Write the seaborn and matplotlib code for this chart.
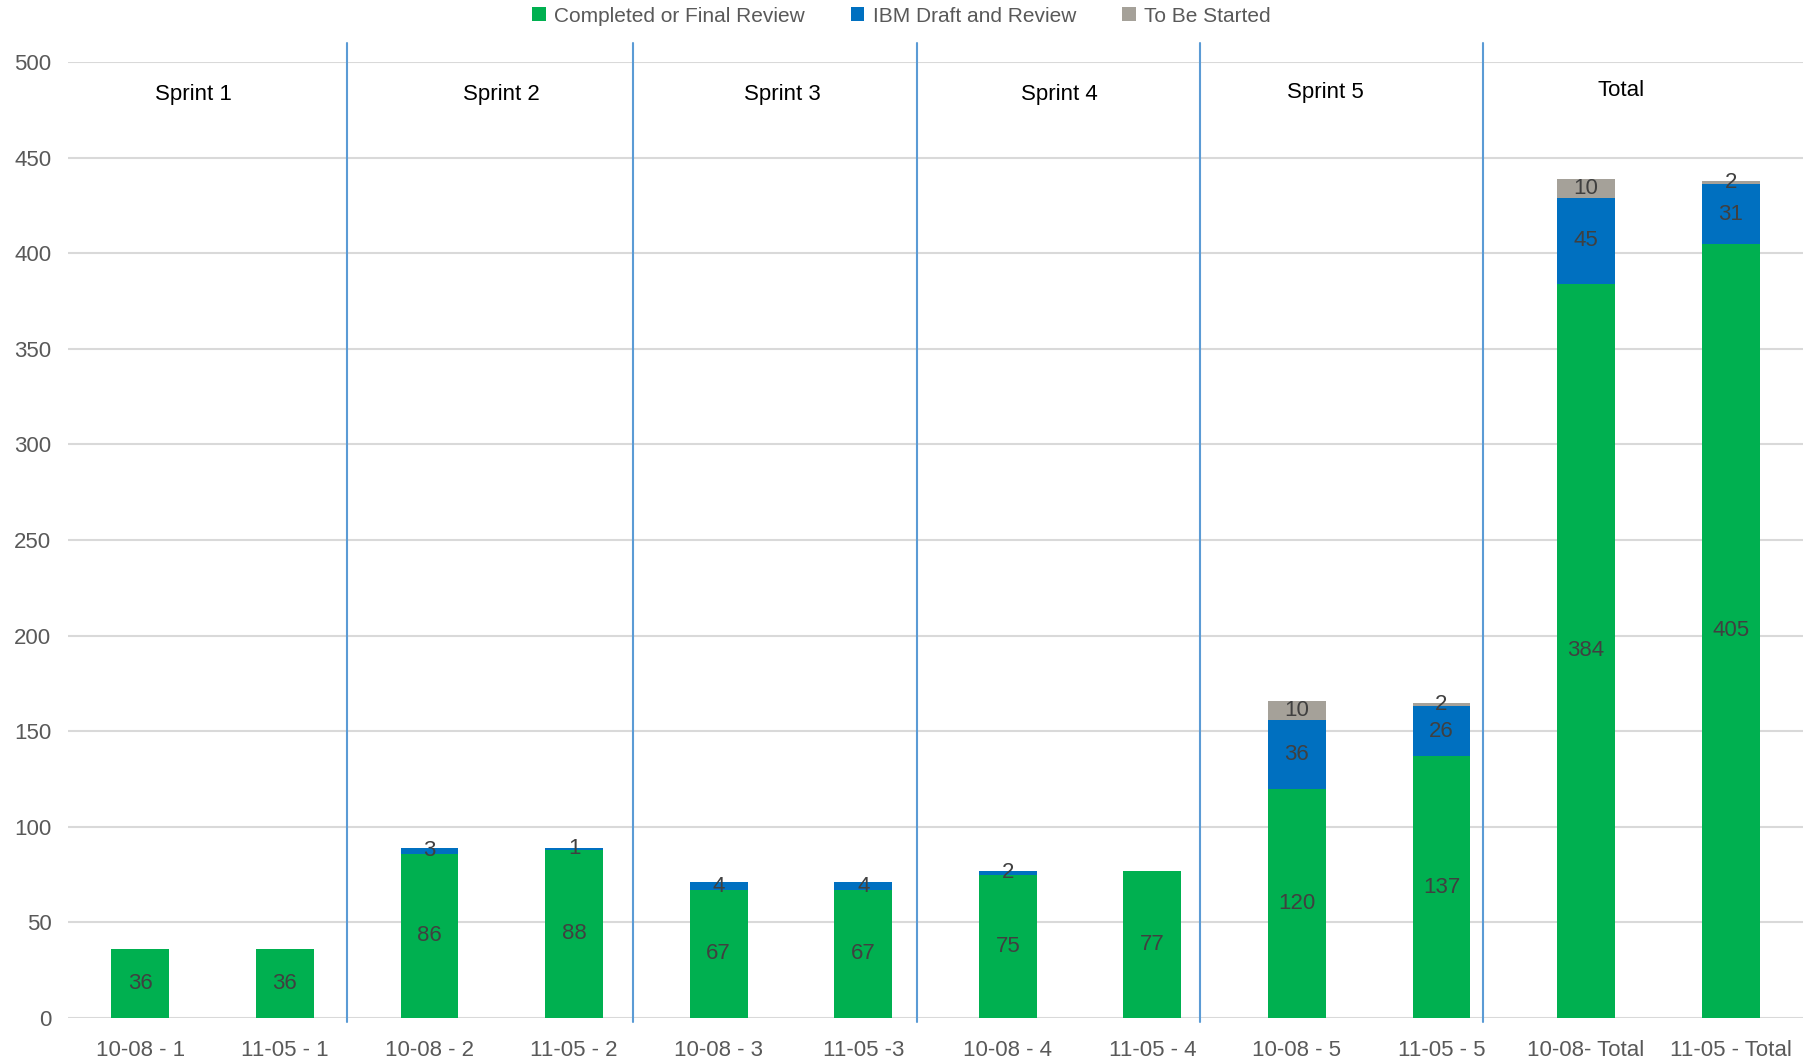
import numpy as np
import pandas as pd
import matplotlib
matplotlib.use("Agg")
import matplotlib.pyplot as plt
import seaborn as sns
from matplotlib.patches import Patch

categories = ["10-08 - 1", "11-05 - 1", "10-08 - 2", "11-05 - 2", "10-08 - 3", "11-05 -3",
              "10-08 - 4", "11-05 - 4", "10-08 - 5", "11-05 - 5", "10-08- Total", "11-05 - Total"]
completed = [36, 36, 86, 88, 67, 67, 75, 77, 120, 137, 384, 405]
ibm_draft = [0, 0, 3, 1, 4, 4, 2, 0, 36, 26, 45, 31]
to_be_started = [0, 0, 0, 0, 0, 0, 0, 0, 10, 2, 10, 2]
series_names = ["Completed or Final Review", "IBM Draft and Review", "To Be Started"]
sprint_labels = ["Sprint 1", "Sprint 2", "Sprint 3", "Sprint 4", "Sprint 5", "Total"]

colors = ["#00B050", "#0070C0", "#A5A199"]

sns.set_theme(style="white")
plt.rcParams["font.family"] = ["Liberation Sans", "DejaVu Sans"]

c = np.array(completed)
b = np.array(ibm_draft)
g = np.array(to_be_started)
df = pd.DataFrame({"cat": categories, "green": c, "blue": c + b, "gray": c + b + g})

fig = plt.figure(figsize=(18.03, 10.61), dpi=100)
ax = fig.add_axes([68 / 1803, 1 - 1018 / 1061, 1 - 68 / 1803, (1018 - 62) / 1061])

for col, colr in zip(["gray", "blue", "green"], colors[::-1]):
    sns.barplot(data=df, x="cat", y=col, order=categories, color=colr, width=0.4,
                saturation=1, ax=ax, zorder=3, linewidth=0, edgecolor="none")

ax.set_ylim(0, 500)
ax.set_xlim(-0.5, len(categories) - 0.5)
ax.set_yticks(np.arange(0, 501, 50))
ax.yaxis.grid(True, color="#D9D9D9", linewidth=1.5, zorder=0)
ax.set_axisbelow(True)
for s in ax.spines.values():
    s.set_visible(False)
ax.axhline(0, color="#D9D9D9", linewidth=2, zorder=1)
ax.set_xlabel("")
ax.set_ylabel("")
ax.tick_params(axis="both", length=0, labelsize=16, colors="#595959")
ax.tick_params(axis="x", pad=16)
ax.tick_params(axis="y", pad=12)

# segment labels
for i in range(len(categories)):
    segs = [(0, c[i]), (c[i], b[i]), (c[i] + b[i], g[i])]
    for base, val in segs:
        if val > 0:
            ax.text(i, base + val / 2, str(val), ha="center", va="center",
                    fontsize=16, color="#404040", zorder=5)

# separators
for xs in [1.43, 3.41, 5.37, 7.33, 9.29]:
    ax.plot([xs, xs], [-2, 510], color="#5B9BD5", linewidth=1.5, clip_on=False, zorder=2)

# sprint labels
for xs, ys, t in zip([0.37, 2.5, 4.44, 6.36, 8.2, 10.24],
                     [483, 483, 483, 483, 484, 485], sprint_labels):
    ax.text(xs, ys, t, ha="center", va="center", fontsize=16, color="black")

handles = [Patch(facecolor=colr, edgecolor="none") for colr in colors]
fig.legend(handles, series_names, loc="center", bbox_to_anchor=(0.5, 1 - 16 / 1061),
           ncol=3, frameon=False, fontsize=15, handlelength=0.65, handleheight=0.65,
           columnspacing=2.2, handletextpad=0.4, labelcolor="#595959")

fig.savefig("out.png", dpi=100)
